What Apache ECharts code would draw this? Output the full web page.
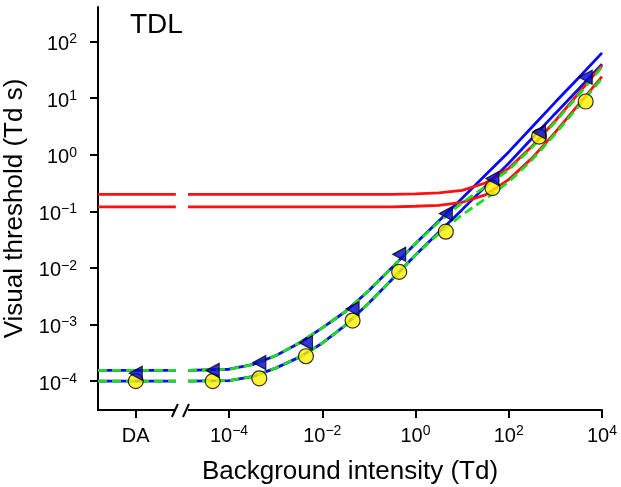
<!DOCTYPE html>
<html>
<head>
<meta charset="utf-8">
<script src="https://cdn.jsdelivr.net/npm/echarts@6/dist/echarts.min.js"></script>
<style>
  html, body { margin: 0; padding: 0; background: #fff; }
  #chart { width: 621px; height: 487px; }
</style>
</head>
<body>
<div id="chart"></div>
<script>
// all values are log10 units (x: log Td, y: log Td s)
// DA (dark adapted) is drawn at x = -6, left of the axis break
const xTicks = [-6, -4, -2, 0, 2, 4]
const yTicks = [-4, -3, -2, -1, 0, 1, 2]

// sample positions of the fitted curves, right of the break
const curveX = [-4.88, -4, -3.5, -3, -2.5, -2, -1.5, -1, -0.5, 0, 0.5, 1, 1.5, 2, 2.5, 3, 3.5, 4]

// blue solid (rod-like) curves
const rodUpper = [-3.81, -3.79, -3.71, -3.55, -3.33, -3.06, -2.77, -2.40, -1.99, -1.57, -1.17, -0.77, -0.36, 0.05, 0.49, 0.93, 1.36, 1.80]
const rodLower = [-4.00, -3.99, -3.92, -3.77, -3.58, -3.33, -3.01, -2.62, -2.20, -1.77, -1.37, -0.97, -0.56, -0.15, 0.29, 0.73, 1.16, 1.60]
// red solid (cone-like) curves
const coneUpper = [-0.70, -0.70, -0.70, -0.70, -0.70, -0.70, -0.70, -0.70, -0.70, -0.69, -0.675, -0.63, -0.50, -0.24, 0.15, 0.60, 1.09, 1.58]
const coneLower = [-0.92, -0.92, -0.92, -0.92, -0.92, -0.92, -0.92, -0.92, -0.92, -0.91, -0.895, -0.84, -0.71, -0.44, -0.06, 0.40, 0.89, 1.38]
// green dashed (combined) curves
const comboUpper = [-3.81, -3.79, -3.71, -3.55, -3.33, -3.06, -2.77, -2.40, -1.99, -1.57, -1.19, -0.85, -0.56, -0.27, 0.13, 0.58, 1.06, 1.55]
const comboLower = [-4.00, -3.99, -3.92, -3.77, -3.58, -3.33, -3.01, -2.62, -2.20, -1.77, -1.39, -1.06, -0.78, -0.48, -0.09, 0.37, 0.86, 1.35]

// measured points
const pointX = [-6, -4.35, -3.35, -2.35, -1.35, -0.35, 0.65, 1.65, 2.65, 3.65]
const circles = [-4.00, -4.00, -3.95, -3.56, -2.93, -2.07, -1.36, -0.59, 0.32, 0.94]
const triangles = [-3.86, -3.81, -3.67, -3.32, -2.72, -1.76, -1.04, -0.42, 0.40, 1.37]

const xMin = -6.81, xMax = 4, yMin = -4.51, yMax = 2.61
const breakL = -5.14, breakR = -4.88
const font = 'Liberation Sans, Arial, Helvetica, sans-serif'

const BLUE = '#0a0af5', RED = '#ff1010', GREEN = '#1edc1e'

function pow10Label(v) {
  if (Math.round(v) === -6 && v < -5) return '{b|DA}'
  const e = Math.round(v)
  return '{b|10}{s|' + (e < 0 ? '\u2212' + (-e) : e) + '}'
}

const rich = {
  b: { fontSize: 20, lineHeight: 24, fontFamily: font, color: '#000' },
  s: { fontSize: 14, lineHeight: 13, verticalAlign: 'top', fontFamily: font, color: '#000' }
}

// one curve = flat piece left of the break + fitted piece right of it
function curve(ys, color, dashed, z) {
  const style = { color: color, width: 2.8 }
  if (dashed) style.type = [9, 5]
  const base = {
    type: 'line', showSymbol: false, silent: true, z: z,
    lineStyle: style, animation: false
  }
  return [
    Object.assign({}, base, { data: [[xMin, ys[0]], [breakL, ys[0]]] }),
    Object.assign({}, base, { data: curveX.map((x, i) => [x, ys[i]]) })
  ]
}

const myChart = echarts.init(document.getElementById('chart'))

const option = {
  animation: false,
  title: {
    text: 'TDL', left: 130, top: 11, padding: 0,
    textStyle: { fontSize: 28, fontWeight: 'normal', fontFamily: font, color: '#000' }
  },
  grid: { left: 98, right: 19, top: 7, bottom: 77, containLabel: false, outerBoundsMode: 'none' },
  xAxis: {
    type: 'value', min: xMin, max: xMax,
    name: 'Background intensity (Td)', nameLocation: 'middle', nameGap: 49,
    nameTextStyle: { fontSize: 26, fontFamily: font, color: '#000' },
    axisLine: { onZero: false, lineStyle: { color: '#000', width: 2 } },
    axisTick: { length: 8, customValues: xTicks, lineStyle: { color: '#000', width: 2 } },
    axisLabel: { customValues: xTicks, margin: 14, formatter: pow10Label, rich: rich },
    splitLine: { show: false }
  },
  yAxis: {
    type: 'value', min: yMin, max: yMax,
    name: 'Visual threshold (Td s)', nameLocation: 'middle', nameGap: 56,
    nameTextStyle: { fontSize: 26, fontFamily: font, color: '#000' },
    axisLine: { show: true, onZero: false, lineStyle: { color: '#000', width: 2 } },
    axisTick: { show: true, length: 8, customValues: yTicks, lineStyle: { color: '#000', width: 2 } },
    axisLabel: { customValues: yTicks, margin: 21, padding: [6, 0, 0, 0], formatter: pow10Label, rich: rich },
    splitLine: { show: false }
  },
  series: [].concat(
    curve(rodUpper, BLUE, false, 2),
    curve(rodLower, BLUE, false, 2),
    curve(coneUpper, RED, false, 2),
    curve(coneLower, RED, false, 2),
    curve(comboUpper, GREEN, true, 3),
    curve(comboLower, GREEN, true, 3),
    [{
      type: 'scatter', z: 4, symbol: 'circle', symbolSize: 15,
      itemStyle: { color: '#fff000', borderColor: '#000', borderWidth: 1.2 },
      data: pointX.map((x, i) => [x, circles[i]])
    }, {
      type: 'scatter', z: 5, symbol: 'triangle', symbolRotate: 90, symbolSize: [14, 13],
      itemStyle: { color: '#0000d8', borderColor: '#000', borderWidth: 1.2 },
      data: pointX.map((x, i) => [x, triangles[i]])
    }]
  )
}

myChart.setOption(option)

// axis break marks "//" on the x axis
const pL = myChart.convertToPixel({ gridIndex: 0 }, [breakL, yMin])
const pR = myChart.convertToPixel({ gridIndex: 0 }, [breakR, yMin])
const slash = (cx) => ({
  type: 'line', z: 10,
  shape: { x1: cx - 3, y1: pL[1] + 7, x2: cx + 3, y2: pL[1] - 6 },
  style: { stroke: '#000', lineWidth: 2 }
})
myChart.setOption({
  graphic: [
    { type: 'rect', z: 9, shape: { x: pL[0], y: pL[1] - 3, width: pR[0] - pL[0], height: 6 }, style: { fill: '#fff' } },
    slash(pL[0] - 1),
    slash(pR[0] - 2)
  ]
})
</script>
</body>
</html>
